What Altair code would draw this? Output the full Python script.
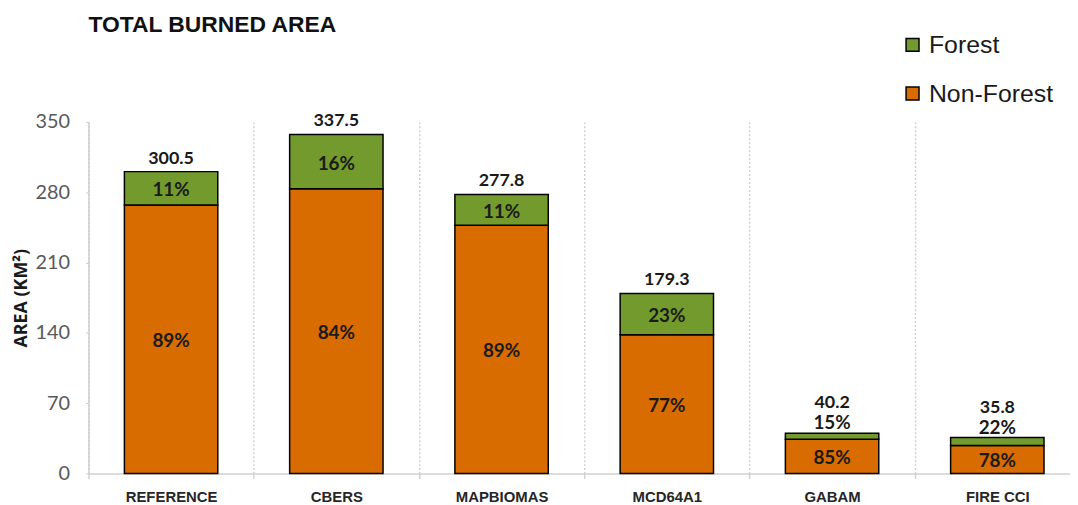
import altair as alt
import pandas as pd

categories = ["REFERENCE", "CBERS", "MAPBIOMAS", "MCD64A1", "GABAM", "FIRE CCI"]
totals = [300.5, 337.5, 277.8, 179.3, 40.2, 35.8]
forest_pct = [11, 16, 11, 23, 15, 22]
nonforest_pct = [89, 84, 89, 77, 85, 78]
forest_area = [33.1, 54.0, 30.6, 41.2, 6.0, 7.9]
nonforest_area = [267.4, 283.5, 247.2, 138.1, 34.2, 27.9]

rows = []
for c, t, fp, nfp, fa, nfa in zip(categories, totals, forest_pct, nonforest_pct, forest_area, nonforest_area):
    rows.append({"cat": c, "type": "Non-Forest", "y0": 0, "y1": nfa, "mid": nfa / 2,
                 "pct": f"{nfp}%", "total": t, "order": 1})
    rows.append({"cat": c, "type": "Forest", "y0": nfa, "y1": nfa + fa, "mid": nfa + fa / 2,
                 "pct": f"{fp}%", "total": t, "order": 0})
df = pd.DataFrame(rows)

GREEN = "#729a2c"
ORANGE = "#d96c00"
NUMFONT = "Lato"
TXT = "#1a1a1a"

x_scale = alt.Scale(paddingInner=0, paddingOuter=0, range=[0, 998])

x_enc = alt.X("cat:N", sort=categories, title=None, scale=x_scale,
              axis=alt.Axis(labelFont="Liberation Sans", labelFontWeight="bold",
                            labelFontSize=15, labelColor="#262626", labelAngle=0,
                            labelPadding=11, tickBand="extent", grid=True,
                            gridColor="#d0d0d0", gridDash=[2, 2], gridWidth=1.5,
                            domainColor="#d0d0d0", domainWidth=1.5,
                            tickColor="#d0d0d0", tickSize=5, tickWidth=1.5))

bars = alt.Chart(df).mark_bar(size=94, stroke="black", strokeWidth=1.5).encode(
    x=x_enc,
    y=alt.Y("y0:Q", title="AREA (KM²)",
            scale=alt.Scale(domain=[0, 350], nice=False),
            axis=alt.Axis(values=[0, 70, 140, 210, 280, 350], grid=False,
                          labelFont=NUMFONT, labelFontSize=20, labelColor="#595959",
                          labelPadding=16, tickSize=3, tickColor="#d0d0d0",
                          domainColor="#d0d0d0", domainWidth=1.5,
                          titleFont="Open Sans", titleFontWeight="bold",
                          titleFontSize=18, titleColor=TXT, titlePadding=5)),
    y2="y1:Q",
    color=alt.Color("type:N",
                    scale=alt.Scale(domain=["Forest", "Non-Forest"], range=[GREEN, ORANGE]),
                    legend=alt.Legend(title=None, orient="none", legendX=817, legendY=-90,
                                      symbolType="square", symbolSize=170,
                                      symbolStrokeColor="black", symbolStrokeWidth=1.5,
                                      labelFont="Liberation Sans", labelFontSize=25,
                                      labelColor=TXT, rowPadding=23,
                                      labelOffset=4)),
)

x_plain = alt.X("cat:N", sort=categories, scale=x_scale)

inside = alt.Chart(df).transform_filter(
    "datum.type == 'Non-Forest' || datum.total > 100"
).mark_text(font=NUMFONT, fontWeight="bold", fontSize=19, color=TXT, dy=2).encode(
    x=x_plain, y=alt.Y("mid:Q"), text="pct:N")

above_pct = alt.Chart(df).transform_filter(
    "datum.type == 'Forest' && datum.total < 100"
).mark_text(font=NUMFONT, fontWeight="bold", fontSize=19, color=TXT, dy=-10).encode(
    x=x_plain, y=alt.Y("y1:Q"), text="pct:N")

tot_big = alt.Chart(df).transform_filter(
    "datum.type == 'Forest' && datum.total > 100"
).mark_text(font=NUMFONT, fontWeight="bold", fontSize=18, color=TXT, dy=-13).encode(
    x=x_plain, y=alt.Y("y1:Q"), text=alt.Text("total:Q", format=".1f"))

tot_small = alt.Chart(df).transform_filter(
    "datum.type == 'Forest' && datum.total < 100"
).mark_text(font=NUMFONT, fontWeight="bold", fontSize=18, color=TXT, dy=-30).encode(
    x=x_plain, y=alt.Y("y1:Q"), text=alt.Text("total:Q", format=".1f"))

chart = alt.layer(bars, inside, above_pct, tot_big, tot_small).properties(
    width=988, height=354,
    title=alt.Title("TOTAL BURNED AREA", anchor="start", frame="group",
                    font="Liberation Sans", fontSize=23, fontWeight="bold",
                    color="#111111", offset=0, dy=5),
    autosize=alt.AutoSizeParams(type="none"),
    padding={"left": 81, "top": 113, "right": 0, "bottom": 29},
).configure_view(stroke=None)

chart.save("out.html", embed_options={"renderer": "svg", "actions": False})
